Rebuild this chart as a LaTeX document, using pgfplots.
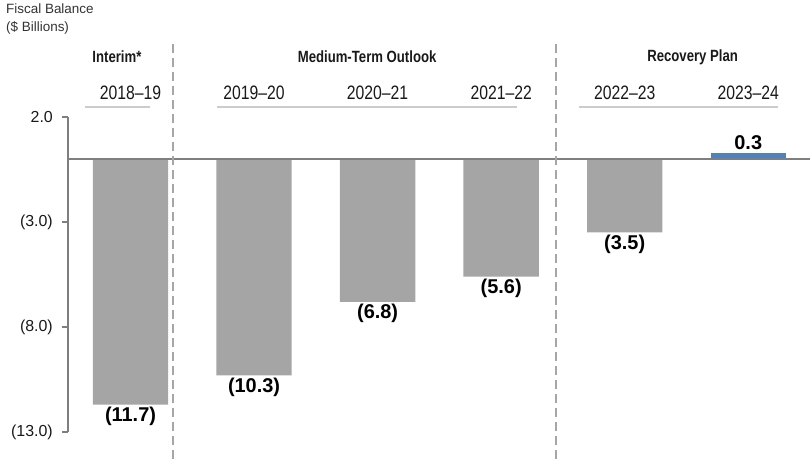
\documentclass[border=0pt]{standalone}
\usepackage{pgfplots}
\pgfplotsset{compat=1.18}
\usepackage{fontspec}
\setmainfont{Liberation Sans}
\newfontfamily\narrowfont{Liberation Sans}[FakeStretch=0.81]
\definecolor{bargray}{HTML}{A5A5A5}
\definecolor{barblue}{HTML}{4F81BD}
\definecolor{axgray}{HTML}{7F7F7F}
\definecolor{dashgray}{HTML}{A6A6A6}
\definecolor{ulgray}{HTML}{CCCCCC}
\tikzset{yearlab/.style={font=\narrowfont\fontsize{19.5}{21}\selectfont, text=black!90},
  grouplab/.style={font=\narrowfont\bfseries\fontsize{16.3}{18}\selectfont, text=black!90}}
\begin{document}
\begin{tikzpicture}[x=1bp,y=1bp]
\useasboundingbox (0,0) rectangle (812,459);
\node[anchor=north west, align=left, font=\fontsize{13.5}{18}\selectfont, text=black!80, inner sep=0] at (6,455) {Fiscal Balance\\(\$ Billions)};
\begin{axis}[
  at={(68bp,27bp)}, anchor=south west,
  scale only axis, width=742bp, height=315bp,
  xmin=-0.506, xmax=5.5, ymin=-13, ymax=2,
  axis x line=none, axis y line*=left,
  y axis line style={axgray, line width=1.5bp},
  ytick={-13,-8,-3,2},
  yticklabels={(13.0),(8.0),(3.0),2.0},
  yticklabel style={font=\fontsize{16}{18}\selectfont, text=black!90, inner sep=0pt, xshift=-9bp},
  major tick length=6bp, tick align=outside,
  every tick/.style={axgray, line width=1.5bp},
  clip=false,
  ybar, bar width=0.61,
  point meta=explicit symbolic,
  nodes near coords={\pgfplotspointmeta},
  every node near coord/.append style={font=\bfseries\fontsize{20}{22}\selectfont, text=black, inner sep=2.5bp},
]
\addplot[fill=bargray, draw=none, bar shift=0pt,
  every node near coord/.append style={anchor=north}] coordinates {
  (0,-11.7) [(11.7)]
  (1,-10.3) [(10.3)]
  (2,-6.8) [(6.8)]
  (3,-5.6) [(5.6)]
  (4,-3.5) [(3.5)]
};
\addplot[fill=barblue, draw=none, bar shift=0pt,
  every node near coord/.append style={anchor=south}] coordinates {
  (5,0.3) [0.3]
};
\draw[axgray, line width=1.5bp] (axis cs:-0.506,0) -- (axis cs:5.5,0);
\draw[dashgray, line width=2bp, dash pattern=on 9bp off 5bp] (axis cs:0.344,-14.3) -- (axis cs:0.344,5.57);
\draw[dashgray, line width=2bp, dash pattern=on 9bp off 5bp] (axis cs:3.445,-14.3) -- (axis cs:3.445,5.57);
\draw[ulgray, line width=1.2bp] (axis cs:-0.368,2.48) -- (axis cs:0.158,2.48);
\draw[ulgray, line width=1.2bp] (axis cs:0.70,2.48) -- (axis cs:3.13,2.48);
\draw[ulgray, line width=1.2bp] (axis cs:3.63,2.48) -- (axis cs:5.24,2.48);
\node[yearlab] at (axis cs:0,3.14) {2018–19};
\node[yearlab] at (axis cs:1,3.14) {2019–20};
\node[yearlab] at (axis cs:2,3.14) {2020–21};
\node[yearlab] at (axis cs:3,3.14) {2021–22};
\node[yearlab] at (axis cs:4,3.14) {2022–23};
\node[yearlab] at (axis cs:5,3.14) {2023–24};
\node[grouplab] at (axis cs:-0.11,4.86) {Interim*};
\node[grouplab] at (axis cs:1.915,4.86) {Medium-Term Outlook};
\node[grouplab] at (axis cs:4.55,4.86) {Recovery Plan};
\end{axis}
\end{tikzpicture}
\end{document}
